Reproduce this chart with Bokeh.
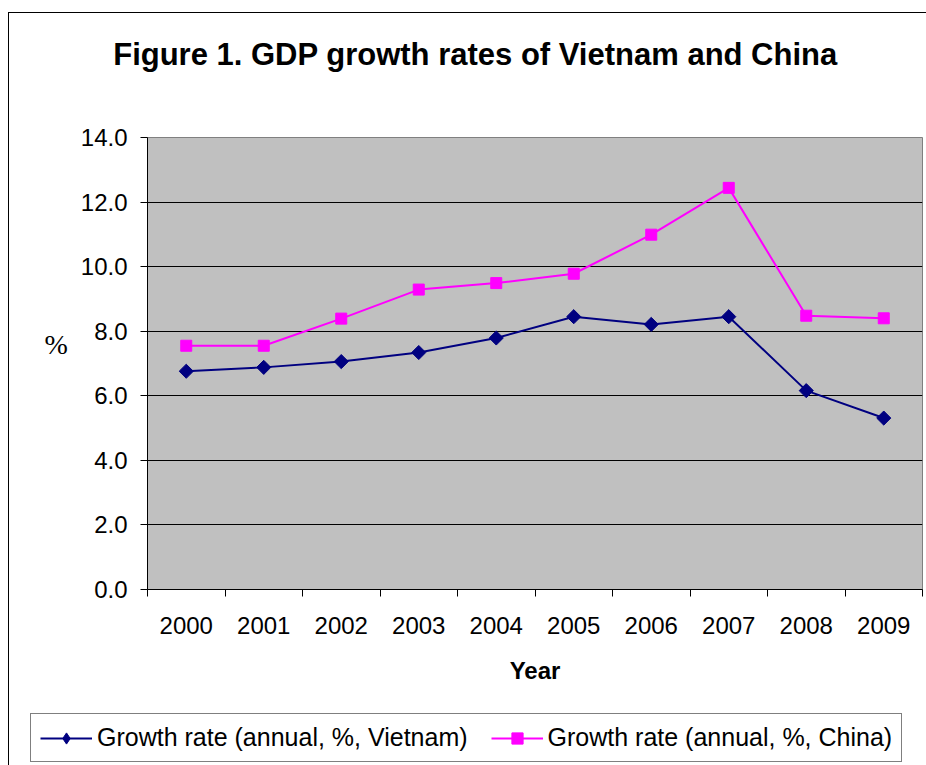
import math
from bokeh.plotting import figure
from bokeh.layouts import column
from bokeh.models import (Range1d, FixedTicker, PrintfTickFormatter, Legend,
                          LegendItem, Label)
from bokeh.embed import file_html
from bokeh.resources import INLINE

# ---- data ----
years = ["2000", "2001", "2002", "2003", "2004", "2005", "2006", "2007", "2008", "2009"]
vietnam = [6.76, 6.88, 7.06, 7.34, 7.79, 8.45, 8.21, 8.45, 6.16, 5.31]
china = [7.55, 7.55, 8.39, 9.29, 9.49, 9.78, 10.99, 12.44, 8.48, 8.40]
y_ticks = [0, 2, 4, 6, 8, 10, 12, 14]
title_text = "Figure 1. GDP growth rates of Vietnam and China"
label_vn = "Growth rate (annual, %, Vietnam)"
label_cn = "Growth rate (annual, %, China)"

x_pos = [i + 0.5 for i in range(len(years))]
x_bounds = list(range(len(years) + 1))

FONT = "Liberation Sans"
VN_COLOR = "#000080"
CN_COLOR = "#FF00FF"
W = 917

# ---------------- title strip ----------------
t = figure(width=W, height=104, output_backend="svg", toolbar_location=None,
           x_range=Range1d(0, 1), y_range=Range1d(0, 1),
           x_axis_type=None, y_axis_type=None, min_border=0)
t.frame_align = False
t.outline_line_color = None
t.grid.visible = False
t.add_layout(Label(x=466, y=63, x_units="screen", y_units="screen", text=title_text,
                   text_font=FONT, text_font_size="31px", text_font_style="bold",
                   text_align="center", text_baseline="alphabetic", text_color="black"))

# ---------------- main chart ----------------
p = figure(width=W, height=583, output_backend="svg", toolbar_location=None,
           x_range=Range1d(0, len(years)), y_range=Range1d(y_ticks[0], y_ticks[-1]),
           min_border_left=138, min_border_right=4, min_border_top=20,
           min_border_bottom=111)
p.frame_align = False

p.background_fill_color = "#C0C0C0"
p.border_fill_color = "white"
p.outline_line_color = "#808080"
p.outline_line_width = 1

p.xgrid.visible = False
p.ygrid.grid_line_color = "black"
p.ygrid.grid_line_width = 1
p.ygrid.ticker = FixedTicker(ticks=y_ticks)

xa = p.xaxis[0]
xa.ticker = FixedTicker(ticks=x_pos, minor_ticks=x_bounds)
xa.major_label_overrides = {x: y for x, y in zip(x_pos, years)}
xa.major_tick_out = 0
xa.major_tick_in = 0
xa.minor_tick_out = 7
xa.minor_tick_in = 0
xa.minor_tick_line_color = "black"
xa.axis_line_color = "black"
xa.axis_line_width = 1
xa.major_label_text_font = FONT
xa.major_label_text_font_size = "24px"
xa.major_label_text_color = "black"
xa.major_label_standoff = 20
xa.axis_label = "Year"
xa.axis_label_text_font = FONT
xa.axis_label_text_font_size = "24px"
xa.axis_label_text_font_style = "bold"
xa.axis_label_text_color = "black"
xa.axis_label_standoff = 20

ya = p.yaxis[0]
ya.ticker = FixedTicker(ticks=y_ticks, minor_ticks=[])
ya.formatter = PrintfTickFormatter(format="%.1f")
ya.major_tick_out = 7
ya.major_tick_in = 0
ya.major_tick_line_color = "black"
ya.axis_line_color = "black"
ya.major_label_text_font = FONT
ya.major_label_text_font_size = "24px"
ya.major_label_text_color = "black"
ya.major_label_standoff = 13
ya.axis_label = "%\n"
ya.axis_label_orientation = "horizontal"
ya.axis_label_text_font = "Liberation Serif"
ya.axis_label_text_font_size = "28px"
ya.axis_label_text_font_style = "normal"
ya.axis_label_text_color = "black"
ya.axis_label_standoff = 10

p.line(x_pos, vietnam, line_color=VN_COLOR, line_width=2)
p.scatter(x_pos, vietnam, marker="square", angle=math.pi / 4, size=10,
          fill_color=VN_COLOR, line_color=VN_COLOR)
p.line(x_pos, china, line_color=CN_COLOR, line_width=2)
p.scatter(x_pos, china, marker="square", size=11,
          fill_color=CN_COLOR, line_color=CN_COLOR)

# ---------------- legend strip ----------------
q = figure(width=W, height=65, output_backend="svg", toolbar_location=None,
           x_range=Range1d(-100, -99), y_range=Range1d(-100, -99),
           x_axis_type=None, y_axis_type=None, min_border=0)
q.frame_align = False
q.outline_line_color = None
q.grid.visible = False
ql_vn = q.line(x_pos, vietnam, line_color=VN_COLOR, line_width=2)
qs_vn = q.scatter(x_pos, vietnam, marker="diamond", size=14,
                  fill_color=VN_COLOR, line_color=VN_COLOR)
ql_cn = q.line(x_pos, china, line_color=CN_COLOR, line_width=2)
qs_cn = q.scatter(x_pos, china, marker="square", size=11,
                  fill_color=CN_COLOR, line_color=CN_COLOR)

legend = Legend(items=[LegendItem(label=label_vn, renderers=[ql_vn, qs_vn]),
                       LegendItem(label=label_cn, renderers=[ql_cn, qs_cn])],
                orientation="horizontal", location=(21, 3))
legend.label_text_font = FONT
legend.label_text_font_size = "25px"
legend.label_text_color = "black"
legend.glyph_width = 52
legend.glyph_height = 28
legend.label_standoff = 5
legend.spacing = 23
legend.padding = 9
legend.margin = 0
legend.border_line_color = "black"
legend.border_line_width = 1
legend.background_fill_color = "white"
legend.background_fill_alpha = 1
q.add_layout(legend, "center")

layout = column(t, p, q, spacing=0,
                styles={"border-left": "1px solid black", "border-top": "1px solid black",
                        "margin-left": "8px", "margin-top": "12px"})

open("out.html", "w").write(file_html(layout, INLINE))
